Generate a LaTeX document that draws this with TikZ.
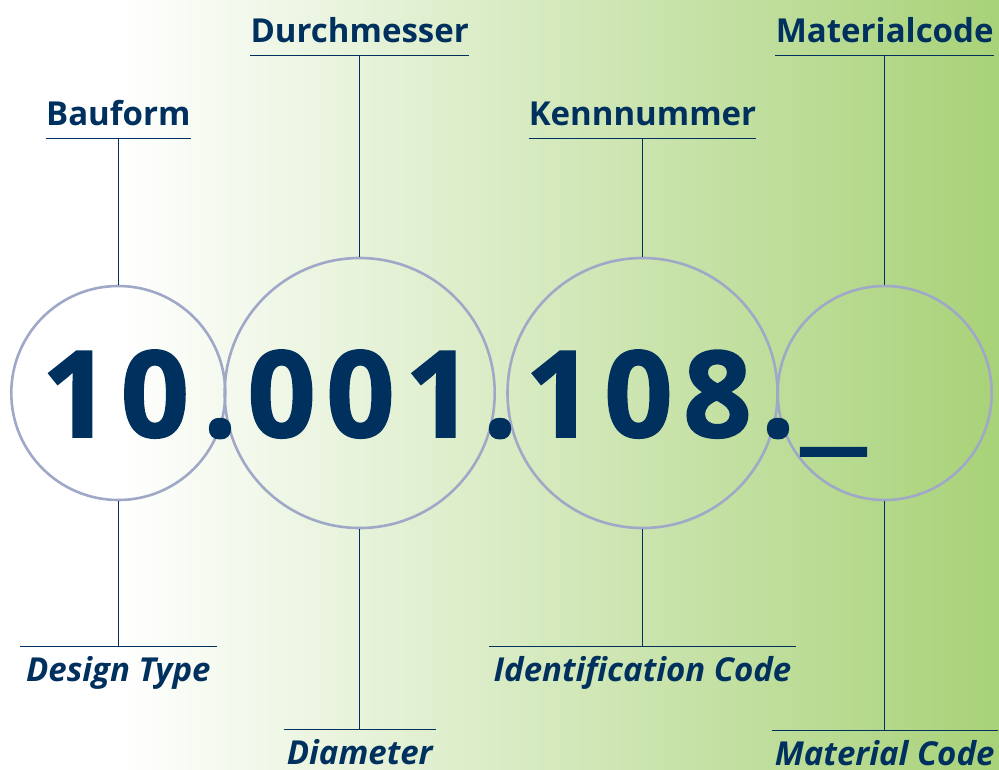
\documentclass[tikz,border=0pt]{standalone}
\usepackage{fontspec}
\usetikzlibrary{positioning, calc}

\newfontfamily\digitfont{Open Sans}[BoldFeatures={FakeBold=1.5}]
\newfontfamily\labelfont{Open Sans}

\definecolor{navy}{RGB}{0,49,94}
\definecolor{ringgray}{RGB}{160,168,200}
\definecolor{leafgreen}{RGB}{168,210,120}

\tikzset{
    ring/.style={circle, draw=ringgray, line width=2.6pt, inner sep=0pt},
    leader/.style={draw=navy, line width=1.4pt},
    toplabel/.style={font=\labelfont\bfseries\fontsize{33}{33}\selectfont, text=navy, anchor=base, inner sep=0pt},
    botlabel/.style={font=\labelfont\bfseries\itshape\fontsize{33}{33}\selectfont, text=navy, anchor=base, inner sep=0pt},
    bigdigit/.style={font=\digitfont\bfseries\fontsize{120}{120}\selectfont, text=navy, anchor=base, inner sep=0pt}
}

\begin{document}
\begin{tikzpicture}[x=1pt, y=-1pt]
    % Parameters
    \def\dsp{10.4pt}  % gap between digits
    \def\base{437}    % baseline of the number

    % Background
    \useasboundingbox (0,0) rectangle (999,769);
    \fill[white] (0,0) rectangle (120,769);
    \shade[left color=white, right color=leafgreen] (120,0) rectangle (999,769);

    % Rings
    \node[ring, minimum size=214] (c1) at (118.3,393) {};
    \node[ring, minimum size=270] (c2) at (359.7,393) {};
    \node[ring, minimum size=270] (c3) at (642.5,393) {};
    \node[ring, minimum size=214] (c4) at (884.7,393) {};

    % Labels above
    \foreach \i/\x/\y/\w/\txt in {1/118.3/125/144/Bauform, 2/359.7/42/219/Durchmesser,
                                  3/642.5/125/227/Kennnummer, 4/884.7/42/219/Materialcode} {
        \node[toplabel, minimum width=\w] (t\i) at (\x,\y) {\txt};
        \coordinate (tu\i) at ([yshift=-13.5pt]t\i.base);
        \draw[leader] (tu\i -| t\i.west) -- (tu\i -| t\i.east);
        \draw[leader] (tu\i) -- (c\i.north);
    }

    % Labels below
    \foreach \i/\x/\y/\w/\txt in {1/118.3/681/196/Design Type, 2/359.7/764/152/Diameter,
                                  3/642.5/681/306/Identification Code, 4/884.7/765/226/Material Code} {
        \node[botlabel, minimum width=\w] (b\i) at (\x,\y) {\txt};
        \coordinate (bu\i) at ([yshift=34.3pt]b\i.base);
        \draw[leader] (bu\i -| b\i.west) -- (bu\i -| b\i.east);
        \draw[leader] (bu\i) -- (c\i.south);
    }

    % The number
    \node[bigdigit] (g1) at (115.5,\base) {1\kern\dsp 0};
    \node[bigdigit] (p1) at (220,\base) {.};
    \node[bigdigit] (g2) at (360.5,\base) {0\kern\dsp 0\kern\dsp 1};
    \node[bigdigit] (p2) at (500,\base) {.};
    \node[bigdigit] (g3) at (638.5,\base) {1\kern\dsp 0\kern\dsp 8};
    \node[bigdigit] (p3) at (778,\base) {.};
    \node[bigdigit] (g4) at (833.5,\base) {\scalebox{1.3}[1]{\_}};
\end{tikzpicture}
\end{document}
